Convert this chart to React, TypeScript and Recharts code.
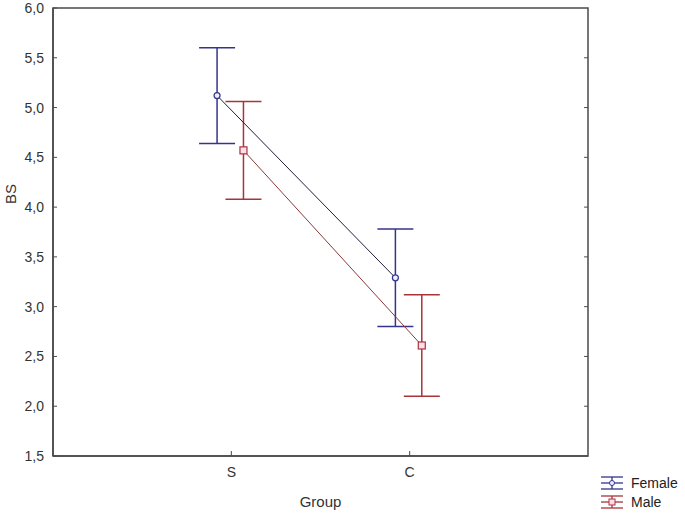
import {
  ComposedChart,
  Scatter,
  ErrorBar,
  XAxis,
  YAxis,
  ReferenceArea,
  ReferenceLine,
} from "recharts";

const categories = ["S", "C"];
const femaleMean = [5.12, 3.29];
const femaleErr = [0.48, 0.49];
const maleMean = [4.57, 2.61];
const maleErr = [0.49, 0.51];
const yTicks = [1.5, 2.0, 2.5, 3.0, 3.5, 4.0, 4.5, 5.0, 5.5, 6.0];

const FEMALE_SHIFT = -0.08;
const MALE_SHIFT = 0.068;
const X_MAX = 3;

const femaleData = categories.map((c, i) => ({
  x: i + 1 + FEMALE_SHIFT,
  y: femaleMean[i],
  err: femaleErr[i],
}));
const maleData = categories.map((c, i) => ({
  x: i + 1 + MALE_SHIFT,
  y: maleMean[i],
  err: maleErr[i],
}));

const FONT = "'Liberation Sans', Arial, sans-serif";
const AXIS = "#4a4a4a";
const BLUE = "#34358a";
const RED = "#a8343a";

const fmt = (v: number) => v.toFixed(1).replace(".", ",");

const Circle = (props: any) => (
  <circle cx={props.cx} cy={props.cy} r={3} fill="#eef" stroke={BLUE} strokeWidth={1.2} />
);
const Square = (props: any) => (
  <rect x={props.cx - 3.5} y={props.cy - 3.5} width={7} height={7} fill="#fde" stroke={RED} strokeWidth={1.2} />
);

const LegendGlyph = ({ color, square }: { color: string; square?: boolean }) => (
  <svg width={26} height={14} style={{ display: "block" }}>
    <line x1={2} x2={24} y1={1} y2={1} stroke={color} strokeWidth={1.3} />
    <line x1={2} x2={24} y1={7} y2={7} stroke={color} strokeWidth={1.3} />
    <line x1={2} x2={24} y1={13} y2={13} stroke={color} strokeWidth={1.3} />
    <line x1={13} x2={13} y1={1} y2={13} stroke={color} strokeWidth={1.3} />
    {square ? (
      <rect x={10} y={4} width={6} height={6} fill="#fde" stroke={color} />
    ) : (
      <circle cx={13} cy={7} r={2.5} fill="#eef" stroke={color} />
    )}
  </svg>
);

export default function App() {
  return (
    <div style={{ position: "absolute", left: 0, top: 0, width: 685, height: 515, background: "#fff", fontFamily: FONT }}>
      <ComposedChart width={685} height={515} margin={{ top: 8, right: 97, bottom: 0, left: 0 }}>
        <XAxis
          type="number"
          dataKey="x"
          domain={[0, X_MAX]}
          ticks={[1, 2]}
          tickFormatter={(v: number) => categories[v - 1] ?? ""}
          height={59}
          tickSize={-5}
          tickMargin={16}
          tickLine={{ stroke: AXIS }}
          axisLine={{ stroke: AXIS, strokeWidth: 1.5 }}
          tick={{ fill: "#333", fontSize: 14, fontFamily: FONT }}
          label={{ value: "Group", position: "insideBottom", offset: 8, fill: "#333", fontSize: 15, fontFamily: FONT }}
        />
        <YAxis
          type="number"
          dataKey="y"
          domain={[1.5, 6]}
          ticks={yTicks}
          width={53}
          tickSize={-4}
          tickMargin={13}
          tickFormatter={fmt}
          tickLine={{ stroke: AXIS }}
          axisLine={{ stroke: AXIS, strokeWidth: 1.5 }}
          tick={{ fill: "#333", fontSize: 14, fontFamily: FONT }}
          label={({ viewBox }: any) => (
            <text
              x={viewBox.x + 16}
              y={viewBox.y + viewBox.height * 0.415}
              transform={`rotate(-90 ${viewBox.x + 16} ${viewBox.y + viewBox.height * 0.415})`}
              textAnchor="middle"
              fill="#333"
              fontSize={15}
              fontFamily={FONT}
            >
              BS
            </text>
          )}
        />
        <ReferenceArea x1={0} x2={X_MAX} y1={1.5} y2={6} fill="none" stroke={AXIS} strokeWidth={1.5} />
        {yTicks.slice(1, -1).map((t) => (
          <ReferenceLine
            key={t}
            segment={[{ x: X_MAX - 0.022, y: t }, { x: X_MAX, y: t }]}
            stroke={AXIS}
          />
        ))}
        <Scatter
          name="Female"
          data={femaleData}
          line={{ stroke: "#1e1e40", strokeWidth: 1 }}
          shape={<Circle />}
          isAnimationActive={false}
        >
          <ErrorBar dataKey="err" direction="y" width={18} stroke={BLUE} strokeWidth={1.5} />
        </Scatter>
        <Scatter
          name="Male"
          data={maleData}
          line={{ stroke: "#8a3a3a", strokeWidth: 1 }}
          shape={<Square />}
          isAnimationActive={false}
        >
          <ErrorBar dataKey="err" direction="y" width={18} stroke={RED} strokeWidth={1.5} />
        </Scatter>
      </ComposedChart>
      <div style={{ position: "absolute", left: 599, top: 476, fontSize: 14, color: "#222", lineHeight: "14px" }}>
        <div style={{ display: "flex", alignItems: "center", gap: 6, marginBottom: 5 }}>
          <LegendGlyph color={BLUE} />
          <span>Female</span>
        </div>
        <div style={{ display: "flex", alignItems: "center", gap: 6 }}>
          <LegendGlyph color={RED} square />
          <span>Male</span>
        </div>
      </div>
    </div>
  );
}
